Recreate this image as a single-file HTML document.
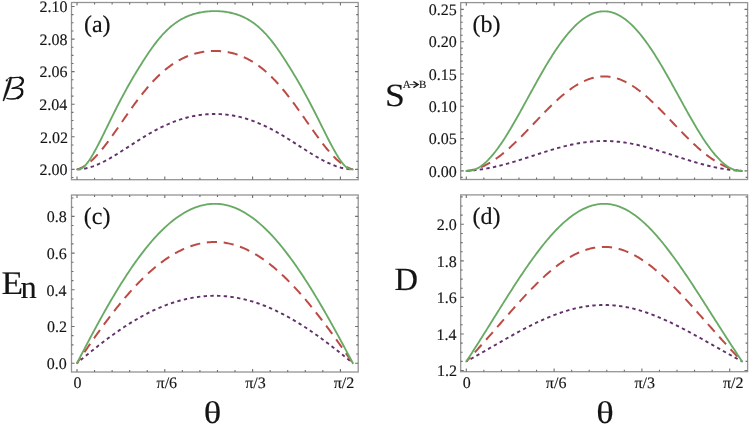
<!DOCTYPE html><html><head><meta charset="utf-8"><style>html,body{margin:0;padding:0;background:#fff;}svg{display:block;}</style></head><body>
<svg width="750" height="426" viewBox="0 0 750 426">
<clipPath id="clipa"><rect x="71.5" y="2.5" width="286.70" height="177.20"/></clipPath>
<g clip-path="url(#clipa)" fill="none" stroke-linecap="butt" stroke-linejoin="round">
<polyline stroke="#62306a" stroke-width="1.9" stroke-dasharray="3.4 3.3" stroke-dashoffset="6.21" points="77.00,169.40 78.15,169.36 79.30,169.30 80.45,169.20 81.60,169.08 82.75,168.92 83.90,168.74 85.05,168.52 86.19,168.28 87.34,168.01 88.49,167.72 89.64,167.40 90.79,167.05 91.94,166.68 93.09,166.29 94.24,165.87 95.39,165.44 96.54,164.98 97.69,164.50 98.84,164.00 99.99,163.48 101.14,162.94 102.28,162.39 103.43,161.82 104.58,161.23 105.73,160.63 106.88,160.01 108.03,159.38 109.18,158.74 110.33,158.09 111.48,157.42 112.63,156.74 113.78,156.06 114.93,155.36 116.08,154.66 117.23,153.95 118.37,153.23 119.52,152.51 120.67,151.78 121.82,151.05 122.97,150.31 124.12,149.57 125.27,148.83 126.42,148.08 127.57,147.34 128.72,146.59 129.87,145.84 131.02,145.09 132.17,144.35 133.32,143.61 134.46,142.86 135.61,142.13 136.76,141.39 137.91,140.66 139.06,139.93 140.21,139.21 141.36,138.49 142.51,137.78 143.66,137.07 144.81,136.37 145.96,135.68 147.11,135.00 148.26,134.32 149.41,133.65 150.56,132.99 151.70,132.34 152.85,131.69 154.00,131.06 155.15,130.43 156.30,129.82 157.45,129.21 158.60,128.62 159.75,128.03 160.90,127.46 162.05,126.90 163.20,126.34 164.35,125.80 165.50,125.27 166.65,124.76 167.79,124.25 168.94,123.76 170.09,123.27 171.24,122.80 172.39,122.34 173.54,121.90 174.69,121.46 175.84,121.04 176.99,120.63 178.14,120.23 179.29,119.84 180.44,119.47 181.59,119.11 182.74,118.76 183.88,118.43 185.03,118.10 186.18,117.79 187.33,117.49 188.48,117.20 189.63,116.93 190.78,116.67 191.93,116.42 193.08,116.18 194.23,115.96 195.38,115.74 196.53,115.54 197.68,115.36 198.83,115.18 199.98,115.02 201.12,114.87 202.27,114.73 203.42,114.60 204.57,114.49 205.72,114.38 206.87,114.29 208.02,114.21 209.17,114.15 210.32,114.09 211.47,114.05 212.62,114.02 213.77,114.00 214.92,114.00 216.04,114.00 217.16,114.02 218.29,114.05 219.41,114.09 220.53,114.15 221.66,114.21 222.78,114.29 223.90,114.38 225.03,114.49 226.15,114.60 227.27,114.73 228.40,114.87 229.52,115.02 230.65,115.18 231.77,115.36 232.90,115.54 234.02,115.74 235.15,115.96 236.28,116.18 237.40,116.42 238.53,116.67 239.66,116.93 240.78,117.20 241.91,117.49 243.04,117.79 244.17,118.10 245.30,118.43 246.43,118.76 247.56,119.11 248.69,119.47 249.82,119.84 250.95,120.23 252.08,120.63 253.21,121.04 254.35,121.46 255.48,121.90 256.62,122.34 257.75,122.80 258.89,123.27 260.02,123.76 261.16,124.25 262.30,124.76 263.43,125.27 264.57,125.80 265.71,126.34 266.85,126.90 267.99,127.46 269.13,128.03 270.27,128.62 271.41,129.21 272.56,129.82 273.70,130.43 274.85,131.06 275.99,131.69 277.14,132.34 278.28,132.99 279.43,133.65 280.58,134.32 281.72,135.00 282.87,135.68 284.02,136.37 285.17,137.07 286.32,137.78 287.48,138.49 288.63,139.21 289.78,139.93 290.94,140.66 292.09,141.39 293.25,142.13 294.40,142.86 295.56,143.61 296.71,144.35 297.87,145.09 299.03,145.84 300.19,146.59 301.35,147.34 302.51,148.08 303.67,148.83 304.83,149.57 305.99,150.31 307.16,151.05 308.32,151.78 309.48,152.51 310.65,153.23 311.81,153.95 312.98,154.66 314.14,155.36 315.31,156.06 316.48,156.74 317.65,157.42 318.81,158.09 319.98,158.74 321.15,159.38 322.32,160.01 323.49,160.63 324.66,161.23 325.83,161.82 327.00,162.39 328.17,162.94 329.35,163.48 330.52,164.00 331.69,164.50 332.86,164.98 334.04,165.44 335.21,165.87 336.38,166.29 337.56,166.68 338.73,167.05 339.91,167.40 341.08,167.72 342.25,168.01 343.43,168.28 344.60,168.52 345.78,168.74 346.95,168.92 348.13,169.08 349.31,169.20 350.48,169.30 351.66,169.36 352.83,169.40"/>
<polyline stroke="#bc4a45" stroke-width="2" stroke-dasharray="10.2 6.7" stroke-dashoffset="1.17" points="77.00,169.40 78.15,169.08 79.30,168.70 80.45,168.24 81.60,167.71 82.75,167.12 83.90,166.47 85.05,165.76 86.19,164.99 87.34,164.16 88.49,163.27 89.64,162.33 90.79,161.34 91.94,160.30 93.09,159.21 94.24,158.07 95.39,156.89 96.54,155.67 97.69,154.41 98.84,153.11 99.99,151.78 101.14,150.40 102.28,149.00 103.43,147.57 104.58,146.11 105.73,144.62 106.88,143.11 108.03,141.58 109.18,140.03 110.33,138.45 111.48,136.86 112.63,135.26 113.78,133.64 114.93,132.01 116.08,130.38 117.23,128.73 118.37,127.08 119.52,125.42 120.67,123.77 121.82,122.11 122.97,120.45 124.12,118.79 125.27,117.14 126.42,115.49 127.57,113.84 128.72,112.21 129.87,110.58 131.02,108.97 132.17,107.36 133.32,105.77 134.46,104.19 135.61,102.63 136.76,101.08 137.91,99.55 139.06,98.04 140.21,96.54 141.36,95.07 142.51,93.61 143.66,92.18 144.81,90.76 145.96,89.37 147.11,88.00 148.26,86.66 149.41,85.34 150.56,84.04 151.70,82.77 152.85,81.52 154.00,80.30 155.15,79.11 156.30,77.94 157.45,76.80 158.60,75.68 159.75,74.59 160.90,73.53 162.05,72.49 163.20,71.48 164.35,70.50 165.50,69.54 166.65,68.61 167.79,67.71 168.94,66.84 170.09,65.99 171.24,65.16 172.39,64.37 173.54,63.60 174.69,62.85 175.84,62.13 176.99,61.44 178.14,60.77 179.29,60.13 180.44,59.51 181.59,58.91 182.74,58.34 183.88,57.79 185.03,57.27 186.18,56.77 187.33,56.29 188.48,55.83 189.63,55.40 190.78,54.98 191.93,54.59 193.08,54.22 194.23,53.87 195.38,53.55 196.53,53.24 197.68,52.95 198.83,52.68 199.98,52.43 201.12,52.21 202.27,52.00 203.42,51.80 204.57,51.63 205.72,51.48 206.87,51.34 208.02,51.23 209.17,51.13 210.32,51.05 211.47,50.98 212.62,50.94 213.77,50.91 214.92,50.90 216.04,50.91 217.16,50.94 218.29,50.98 219.41,51.05 220.53,51.13 221.66,51.23 222.78,51.34 223.90,51.48 225.03,51.63 226.15,51.80 227.27,52.00 228.40,52.21 229.52,52.43 230.65,52.68 231.77,52.95 232.90,53.24 234.02,53.55 235.15,53.87 236.28,54.22 237.40,54.59 238.53,54.98 239.66,55.40 240.78,55.83 241.91,56.29 243.04,56.77 244.17,57.27 245.30,57.79 246.43,58.34 247.56,58.91 248.69,59.51 249.82,60.13 250.95,60.77 252.08,61.44 253.21,62.13 254.35,62.85 255.48,63.60 256.62,64.37 257.75,65.16 258.89,65.99 260.02,66.84 261.16,67.71 262.30,68.61 263.43,69.54 264.57,70.50 265.71,71.48 266.85,72.49 267.99,73.53 269.13,74.59 270.27,75.68 271.41,76.80 272.56,77.94 273.70,79.11 274.85,80.30 275.99,81.52 277.14,82.77 278.28,84.04 279.43,85.34 280.58,86.66 281.72,88.00 282.87,89.37 284.02,90.76 285.17,92.18 286.32,93.61 287.48,95.07 288.63,96.54 289.78,98.04 290.94,99.55 292.09,101.08 293.25,102.63 294.40,104.19 295.56,105.77 296.71,107.36 297.87,108.97 299.03,110.58 300.19,112.21 301.35,113.84 302.51,115.49 303.67,117.14 304.83,118.79 305.99,120.45 307.16,122.11 308.32,123.77 309.48,125.42 310.65,127.08 311.81,128.73 312.98,130.38 314.14,132.01 315.31,133.64 316.48,135.26 317.65,136.86 318.81,138.45 319.98,140.03 321.15,141.58 322.32,143.11 323.49,144.62 324.66,146.11 325.83,147.57 327.00,149.00 328.17,150.40 329.35,151.78 330.52,153.11 331.69,154.41 332.86,155.67 334.04,156.89 335.21,158.07 336.38,159.21 337.56,160.30 338.73,161.34 339.91,162.33 341.08,163.27 342.25,164.16 343.43,164.99 344.60,165.76 345.78,166.47 346.95,167.12 348.13,167.71 349.31,168.24 350.48,168.70 351.66,169.08 352.83,169.40"/>
<polyline stroke="#68aa64" stroke-width="1.85" stroke-linecap="round" points="77.00,169.40 78.15,169.38 79.30,169.34 80.45,168.97 81.60,168.39 82.75,167.62 83.90,166.68 85.05,165.56 86.19,164.30 87.34,162.89 88.49,161.35 89.64,159.68 90.79,157.92 91.94,156.05 93.09,154.10 94.24,152.07 95.39,149.99 96.54,147.86 97.69,145.69 98.84,143.47 99.99,141.23 101.14,138.96 102.28,136.66 103.43,134.35 104.58,132.02 105.73,129.68 106.88,127.33 108.03,124.97 109.18,122.62 110.33,120.27 111.48,117.93 112.63,115.60 113.78,113.29 114.93,110.99 116.08,108.71 117.23,106.45 118.37,104.21 119.52,101.99 120.67,99.80 121.82,97.62 122.97,95.46 124.12,93.33 125.27,91.22 126.42,89.13 127.57,87.06 128.72,85.02 129.87,83.00 131.02,81.00 132.17,79.03 133.32,77.08 134.46,75.15 135.61,73.24 136.76,71.34 137.91,69.46 139.06,67.60 140.21,65.74 141.36,63.90 142.51,62.08 143.66,60.27 144.81,58.48 145.96,56.71 147.11,54.97 148.26,53.25 149.41,51.57 150.56,49.91 151.70,48.28 152.85,46.69 154.00,45.13 155.15,43.60 156.30,42.12 157.45,40.66 158.60,39.25 159.75,37.88 160.90,36.54 162.05,35.25 163.20,33.99 164.35,32.78 165.50,31.60 166.65,30.47 167.79,29.37 168.94,28.32 170.09,27.30 171.24,26.32 172.39,25.38 173.54,24.48 174.69,23.62 175.84,22.79 176.99,22.00 178.14,21.24 179.29,20.52 180.44,19.83 181.59,19.17 182.74,18.55 183.88,17.96 185.03,17.40 186.18,16.86 187.33,16.36 188.48,15.89 189.63,15.44 190.78,15.02 191.93,14.62 193.08,14.25 194.23,13.91 195.38,13.58 196.53,13.29 197.68,13.01 198.83,12.75 199.98,12.52 201.12,12.30 202.27,12.10 203.42,11.92 204.57,11.77 205.72,11.62 206.87,11.50 208.02,11.39 209.17,11.30 210.32,11.23 211.47,11.17 212.62,11.13 213.77,11.11 214.92,11.10 216.04,11.11 217.16,11.13 218.29,11.17 219.41,11.23 220.53,11.30 221.66,11.39 222.78,11.50 223.90,11.62 225.03,11.77 226.15,11.92 227.27,12.10 228.40,12.30 229.52,12.52 230.65,12.75 231.77,13.01 232.90,13.29 234.02,13.58 235.15,13.91 236.28,14.25 237.40,14.62 238.53,15.02 239.66,15.44 240.78,15.89 241.91,16.36 243.04,16.86 244.17,17.40 245.30,17.96 246.43,18.55 247.56,19.17 248.69,19.83 249.82,20.52 250.95,21.24 252.08,22.00 253.21,22.79 254.35,23.62 255.48,24.48 256.62,25.38 257.75,26.32 258.89,27.30 260.02,28.32 261.16,29.37 262.30,30.47 263.43,31.60 264.57,32.78 265.71,33.99 266.85,35.25 267.99,36.54 269.13,37.88 270.27,39.25 271.41,40.66 272.56,42.12 273.70,43.60 274.85,45.13 275.99,46.69 277.14,48.28 278.28,49.91 279.43,51.57 280.58,53.25 281.72,54.97 282.87,56.71 284.02,58.48 285.17,60.27 286.32,62.08 287.48,63.90 288.63,65.74 289.78,67.60 290.94,69.46 292.09,71.34 293.25,73.24 294.40,75.15 295.56,77.08 296.71,79.03 297.87,81.00 299.03,83.00 300.19,85.02 301.35,87.06 302.51,89.13 303.67,91.22 304.83,93.33 305.99,95.46 307.16,97.62 308.32,99.80 309.48,101.99 310.65,104.21 311.81,106.45 312.98,108.71 314.14,110.99 315.31,113.29 316.48,115.60 317.65,117.93 318.81,120.27 319.98,122.62 321.15,124.97 322.32,127.33 323.49,129.68 324.66,132.02 325.83,134.35 327.00,136.66 328.17,138.96 329.35,141.23 330.52,143.47 331.69,145.69 332.86,147.86 334.04,149.99 335.21,152.07 336.38,154.10 337.56,156.05 338.73,157.92 339.91,159.68 341.08,161.35 342.25,162.89 343.43,164.30 344.60,165.56 345.78,166.68 346.95,167.62 348.13,168.39 349.31,168.97 350.48,169.34 351.66,169.38 352.83,169.40"/>
</g>
<rect x="71.5" y="2.5" width="286.70" height="177.20" fill="none" stroke="#949494" stroke-width="1.3"/>
<path d="M77.00 179.70v-3.1M77.00 2.50v3.1M94.56 179.70v-2.0M94.56 2.50v2.0M112.12 179.70v-2.0M112.12 2.50v2.0M129.68 179.70v-2.0M129.68 2.50v2.0M147.24 179.70v-2.0M147.24 2.50v2.0M164.80 179.70v-3.1M164.80 2.50v3.1M182.36 179.70v-2.0M182.36 2.50v2.0M199.92 179.70v-2.0M199.92 2.50v2.0M217.48 179.70v-2.0M217.48 2.50v2.0M235.04 179.70v-2.0M235.04 2.50v2.0M252.60 179.70v-3.1M252.60 2.50v3.1M270.16 179.70v-2.0M270.16 2.50v2.0M287.72 179.70v-2.0M287.72 2.50v2.0M305.28 179.70v-2.0M305.28 2.50v2.0M322.84 179.70v-2.0M322.84 2.50v2.0M340.40 179.70v-3.1M340.40 2.50v3.1M71.50 177.54h2.0M358.20 177.54h-2.0M71.50 169.40h3.1M358.20 169.40h-3.1M71.50 161.26h2.0M358.20 161.26h-2.0M71.50 153.11h2.0M358.20 153.11h-2.0M71.50 144.96h2.0M358.20 144.96h-2.0M71.50 136.82h3.1M358.20 136.82h-3.1M71.50 128.68h2.0M358.20 128.68h-2.0M71.50 120.53h2.0M358.20 120.53h-2.0M71.50 112.38h2.0M358.20 112.38h-2.0M71.50 104.24h3.1M358.20 104.24h-3.1M71.50 96.10h2.0M358.20 96.10h-2.0M71.50 87.95h2.0M358.20 87.95h-2.0M71.50 79.80h2.0M358.20 79.80h-2.0M71.50 71.66h3.1M358.20 71.66h-3.1M71.50 63.52h2.0M358.20 63.52h-2.0M71.50 55.37h2.0M358.20 55.37h-2.0M71.50 47.22h2.0M358.20 47.22h-2.0M71.50 39.08h3.1M358.20 39.08h-3.1M71.50 30.94h2.0M358.20 30.94h-2.0M71.50 22.79h2.0M358.20 22.79h-2.0M71.50 14.64h2.0M358.20 14.64h-2.0M71.50 6.50h3.1M358.20 6.50h-3.1" stroke="#6e6e6e" stroke-width="1.1" fill="none"/>
<clipPath id="clipb"><rect x="460.7" y="2.6" width="286.90" height="176.90"/></clipPath>
<g clip-path="url(#clipb)" fill="none" stroke-linecap="butt" stroke-linejoin="round">
<polyline stroke="#62306a" stroke-width="1.9" stroke-dasharray="3.4 3.3" stroke-dashoffset="6.63" points="466.30,170.90 467.45,170.83 468.60,170.76 469.75,170.68 470.90,170.59 472.05,170.49 473.20,170.38 474.35,170.27 475.49,170.14 476.64,170.01 477.79,169.87 478.94,169.72 480.09,169.56 481.24,169.39 482.39,169.22 483.54,169.04 484.69,168.85 485.84,168.65 486.99,168.44 488.14,168.23 489.29,168.01 490.44,167.78 491.58,167.55 492.73,167.31 493.88,167.06 495.03,166.80 496.18,166.54 497.33,166.27 498.48,166.00 499.63,165.72 500.78,165.43 501.93,165.14 503.08,164.84 504.23,164.53 505.38,164.23 506.53,163.91 507.67,163.59 508.82,163.27 509.97,162.94 511.12,162.61 512.27,162.27 513.42,161.93 514.57,161.58 515.72,161.24 516.87,160.88 518.02,160.53 519.17,160.17 520.32,159.81 521.47,159.45 522.62,159.09 523.76,158.72 524.91,158.35 526.06,157.98 527.21,157.61 528.36,157.24 529.51,156.86 530.66,156.49 531.81,156.12 532.96,155.74 534.11,155.37 535.26,154.99 536.41,154.62 537.56,154.25 538.71,153.88 539.86,153.51 541.00,153.14 542.15,152.77 543.30,152.40 544.45,152.04 545.60,151.68 546.75,151.32 547.90,150.97 549.05,150.62 550.20,150.27 551.35,149.92 552.50,149.58 553.65,149.24 554.80,148.91 555.95,148.58 557.09,148.26 558.24,147.94 559.39,147.62 560.54,147.32 561.69,147.01 562.84,146.71 563.99,146.42 565.14,146.14 566.29,145.86 567.44,145.58 568.59,145.31 569.74,145.05 570.89,144.80 572.04,144.55 573.18,144.31 574.33,144.08 575.48,143.86 576.63,143.64 577.78,143.43 578.93,143.23 580.08,143.04 581.23,142.85 582.38,142.67 583.53,142.51 584.68,142.35 585.83,142.19 586.98,142.05 588.13,141.92 589.28,141.79 590.42,141.68 591.57,141.57 592.72,141.47 593.87,141.38 595.02,141.30 596.17,141.23 597.32,141.17 598.47,141.12 599.62,141.08 600.77,141.04 601.92,141.02 603.07,141.00 604.22,141.00 605.34,141.00 606.46,141.02 607.59,141.04 608.71,141.08 609.83,141.12 610.96,141.17 612.08,141.23 613.20,141.30 614.33,141.38 615.45,141.47 616.57,141.57 617.70,141.68 618.82,141.79 619.95,141.92 621.07,142.05 622.20,142.19 623.32,142.35 624.45,142.51 625.58,142.67 626.70,142.85 627.83,143.04 628.96,143.23 630.08,143.43 631.21,143.64 632.34,143.86 633.47,144.08 634.60,144.31 635.73,144.55 636.86,144.80 637.99,145.05 639.12,145.31 640.25,145.58 641.38,145.86 642.51,146.14 643.65,146.42 644.78,146.71 645.92,147.01 647.05,147.32 648.19,147.62 649.32,147.94 650.46,148.26 651.60,148.58 652.73,148.91 653.87,149.24 655.01,149.58 656.15,149.92 657.29,150.27 658.43,150.62 659.57,150.97 660.71,151.32 661.86,151.68 663.00,152.04 664.15,152.40 665.29,152.77 666.44,153.14 667.58,153.51 668.73,153.88 669.88,154.25 671.02,154.62 672.17,154.99 673.32,155.37 674.47,155.74 675.62,156.12 676.78,156.49 677.93,156.86 679.08,157.24 680.24,157.61 681.39,157.98 682.55,158.35 683.70,158.72 684.86,159.09 686.01,159.45 687.17,159.81 688.33,160.17 689.49,160.53 690.65,160.88 691.81,161.24 692.97,161.58 694.13,161.93 695.29,162.27 696.46,162.61 697.62,162.94 698.78,163.27 699.95,163.59 701.11,163.91 702.28,164.23 703.44,164.53 704.61,164.84 705.78,165.14 706.95,165.43 708.11,165.72 709.28,166.00 710.45,166.27 711.62,166.54 712.79,166.80 713.96,167.06 715.13,167.31 716.30,167.55 717.47,167.78 718.65,168.01 719.82,168.23 720.99,168.44 722.16,168.65 723.34,168.85 724.51,169.04 725.68,169.22 726.86,169.39 728.03,169.56 729.21,169.72 730.38,169.87 731.55,170.01 732.73,170.14 733.90,170.27 735.08,170.38 736.25,170.49 737.43,170.59 738.61,170.68 739.78,170.76 740.96,170.83 742.13,170.90"/>
<polyline stroke="#bc4a45" stroke-width="2" stroke-dasharray="10.2 6.7" stroke-dashoffset="1.68" points="466.30,170.90 467.45,170.78 468.60,170.64 469.75,170.46 470.90,170.25 472.05,170.02 473.20,169.75 474.35,169.46 475.49,169.13 476.64,168.78 477.79,168.40 478.94,167.99 480.09,167.55 481.24,167.08 482.39,166.59 483.54,166.07 484.69,165.52 485.84,164.95 486.99,164.34 488.14,163.72 489.29,163.06 490.44,162.38 491.58,161.68 492.73,160.95 493.88,160.20 495.03,159.42 496.18,158.62 497.33,157.80 498.48,156.96 499.63,156.09 500.78,155.20 501.93,154.30 503.08,153.37 504.23,152.42 505.38,151.46 506.53,150.48 507.67,149.48 508.82,148.46 509.97,147.42 511.12,146.37 512.27,145.31 513.42,144.23 514.57,143.14 515.72,142.04 516.87,140.92 518.02,139.79 519.17,138.65 520.32,137.50 521.47,136.35 522.62,135.18 523.76,134.01 524.91,132.83 526.06,131.64 527.21,130.45 528.36,129.25 529.51,128.05 530.66,126.85 531.81,125.64 532.96,124.44 534.11,123.23 535.26,122.02 536.41,120.82 537.56,119.61 538.71,118.41 539.86,117.21 541.00,116.02 542.15,114.83 543.30,113.64 544.45,112.47 545.60,111.29 546.75,110.13 547.90,108.98 549.05,107.83 550.20,106.70 551.35,105.58 552.50,104.47 553.65,103.37 554.80,102.28 555.95,101.21 557.09,100.15 558.24,99.11 559.39,98.09 560.54,97.08 561.69,96.09 562.84,95.11 563.99,94.16 565.14,93.22 566.29,92.31 567.44,91.41 568.59,90.54 569.74,89.69 570.89,88.86 572.04,88.05 573.18,87.27 574.33,86.50 575.48,85.77 576.63,85.06 577.78,84.37 578.93,83.71 580.08,83.08 581.23,82.47 582.38,81.89 583.53,81.34 584.68,80.81 585.83,80.32 586.98,79.85 588.13,79.41 589.28,79.00 590.42,78.62 591.57,78.27 592.72,77.94 593.87,77.65 595.02,77.39 596.17,77.16 597.32,76.96 598.47,76.79 599.62,76.65 600.77,76.54 601.92,76.46 603.07,76.42 604.22,76.40 605.34,76.42 606.46,76.46 607.59,76.54 608.71,76.65 609.83,76.79 610.96,76.96 612.08,77.16 613.20,77.39 614.33,77.65 615.45,77.94 616.57,78.27 617.70,78.62 618.82,79.00 619.95,79.41 621.07,79.85 622.20,80.32 623.32,80.81 624.45,81.34 625.58,81.89 626.70,82.47 627.83,83.08 628.96,83.71 630.08,84.37 631.21,85.06 632.34,85.77 633.47,86.50 634.60,87.27 635.73,88.05 636.86,88.86 637.99,89.69 639.12,90.54 640.25,91.41 641.38,92.31 642.51,93.22 643.65,94.16 644.78,95.11 645.92,96.09 647.05,97.08 648.19,98.09 649.32,99.11 650.46,100.15 651.60,101.21 652.73,102.28 653.87,103.37 655.01,104.47 656.15,105.58 657.29,106.70 658.43,107.83 659.57,108.98 660.71,110.13 661.86,111.29 663.00,112.47 664.15,113.64 665.29,114.83 666.44,116.02 667.58,117.21 668.73,118.41 669.88,119.61 671.02,120.82 672.17,122.02 673.32,123.23 674.47,124.44 675.62,125.64 676.78,126.85 677.93,128.05 679.08,129.25 680.24,130.45 681.39,131.64 682.55,132.83 683.70,134.01 684.86,135.18 686.01,136.35 687.17,137.50 688.33,138.65 689.49,139.79 690.65,140.92 691.81,142.04 692.97,143.14 694.13,144.23 695.29,145.31 696.46,146.37 697.62,147.42 698.78,148.46 699.95,149.48 701.11,150.48 702.28,151.46 703.44,152.42 704.61,153.37 705.78,154.30 706.95,155.20 708.11,156.09 709.28,156.96 710.45,157.80 711.62,158.62 712.79,159.42 713.96,160.20 715.13,160.95 716.30,161.68 717.47,162.38 718.65,163.06 719.82,163.72 720.99,164.34 722.16,164.95 723.34,165.52 724.51,166.07 725.68,166.59 726.86,167.08 728.03,167.55 729.21,167.99 730.38,168.40 731.55,168.78 732.73,169.13 733.90,169.46 735.08,169.75 736.25,170.02 737.43,170.25 738.61,170.46 739.78,170.64 740.96,170.78 742.13,170.90"/>
<polyline stroke="#68aa64" stroke-width="1.85" stroke-linecap="round" points="466.30,170.90 467.45,170.90 468.60,170.90 469.75,170.81 470.90,170.65 472.05,170.40 473.20,170.08 474.35,169.68 475.49,169.23 476.64,168.70 477.79,168.11 478.94,167.44 480.09,166.72 481.24,165.93 482.39,165.08 483.54,164.16 484.69,163.19 485.84,162.16 486.99,161.07 488.14,159.93 489.29,158.73 490.44,157.48 491.58,156.18 492.73,154.83 493.88,153.43 495.03,151.98 496.18,150.49 497.33,148.96 498.48,147.38 499.63,145.76 500.78,144.11 501.93,142.42 503.08,140.69 504.23,138.93 505.38,137.13 506.53,135.31 507.67,133.45 508.82,131.57 509.97,129.66 511.12,127.73 512.27,125.78 513.42,123.81 514.57,121.81 515.72,119.80 516.87,117.77 518.02,115.73 519.17,113.68 520.32,111.61 521.47,109.54 522.62,107.45 523.76,105.36 524.91,103.27 526.06,101.17 527.21,99.07 528.36,96.97 529.51,94.87 530.66,92.77 531.81,90.68 532.96,88.59 534.11,86.50 535.26,84.43 536.41,82.36 537.56,80.31 538.71,78.27 539.86,76.23 541.00,74.22 542.15,72.22 543.30,70.23 544.45,68.27 545.60,66.32 546.75,64.39 547.90,62.49 549.05,60.60 550.20,58.74 551.35,56.91 552.50,55.10 553.65,53.31 554.80,51.55 555.95,49.83 557.09,48.13 558.24,46.45 559.39,44.82 560.54,43.21 561.69,41.63 562.84,40.09 563.99,38.58 565.14,37.11 566.29,35.67 567.44,34.27 568.59,32.90 569.74,31.57 570.89,30.28 572.04,29.03 573.18,27.82 574.33,26.65 575.48,25.51 576.63,24.42 577.78,23.37 578.93,22.36 580.08,21.39 581.23,20.47 582.38,19.58 583.53,18.74 584.68,17.95 585.83,17.19 586.98,16.49 588.13,15.82 589.28,15.20 590.42,14.63 591.57,14.10 592.72,13.61 593.87,13.18 595.02,12.78 596.17,12.44 597.32,12.13 598.47,11.88 599.62,11.67 600.77,11.51 601.92,11.39 603.07,11.32 604.22,11.30 605.34,11.32 606.46,11.39 607.59,11.51 608.71,11.67 609.83,11.88 610.96,12.13 612.08,12.44 613.20,12.78 614.33,13.18 615.45,13.61 616.57,14.10 617.70,14.63 618.82,15.20 619.95,15.82 621.07,16.49 622.20,17.19 623.32,17.95 624.45,18.74 625.58,19.58 626.70,20.47 627.83,21.39 628.96,22.36 630.08,23.37 631.21,24.42 632.34,25.51 633.47,26.65 634.60,27.82 635.73,29.03 636.86,30.28 637.99,31.57 639.12,32.90 640.25,34.27 641.38,35.67 642.51,37.11 643.65,38.58 644.78,40.09 645.92,41.63 647.05,43.21 648.19,44.82 649.32,46.45 650.46,48.13 651.60,49.83 652.73,51.55 653.87,53.31 655.01,55.10 656.15,56.91 657.29,58.74 658.43,60.60 659.57,62.49 660.71,64.39 661.86,66.32 663.00,68.27 664.15,70.23 665.29,72.22 666.44,74.22 667.58,76.23 668.73,78.27 669.88,80.31 671.02,82.36 672.17,84.43 673.32,86.50 674.47,88.59 675.62,90.68 676.78,92.77 677.93,94.87 679.08,96.97 680.24,99.07 681.39,101.17 682.55,103.27 683.70,105.36 684.86,107.45 686.01,109.54 687.17,111.61 688.33,113.68 689.49,115.73 690.65,117.77 691.81,119.80 692.97,121.81 694.13,123.81 695.29,125.78 696.46,127.73 697.62,129.66 698.78,131.57 699.95,133.45 701.11,135.31 702.28,137.13 703.44,138.93 704.61,140.69 705.78,142.42 706.95,144.11 708.11,145.76 709.28,147.38 710.45,148.96 711.62,150.49 712.79,151.98 713.96,153.43 715.13,154.83 716.30,156.18 717.47,157.48 718.65,158.73 719.82,159.93 720.99,161.07 722.16,162.16 723.34,163.19 724.51,164.16 725.68,165.08 726.86,165.93 728.03,166.72 729.21,167.44 730.38,168.11 731.55,168.70 732.73,169.23 733.90,169.68 735.08,170.08 736.25,170.40 737.43,170.65 738.61,170.81 739.78,170.90 740.96,170.90 742.13,170.90"/>
</g>
<rect x="460.7" y="2.6" width="286.90" height="176.90" fill="none" stroke="#949494" stroke-width="1.3"/>
<path d="M466.30 179.50v-3.1M466.30 2.60v3.1M483.86 179.50v-2.0M483.86 2.60v2.0M501.42 179.50v-2.0M501.42 2.60v2.0M518.98 179.50v-2.0M518.98 2.60v2.0M536.54 179.50v-2.0M536.54 2.60v2.0M554.10 179.50v-3.1M554.10 2.60v3.1M571.66 179.50v-2.0M571.66 2.60v2.0M589.22 179.50v-2.0M589.22 2.60v2.0M606.78 179.50v-2.0M606.78 2.60v2.0M624.34 179.50v-2.0M624.34 2.60v2.0M641.90 179.50v-3.1M641.90 2.60v3.1M659.46 179.50v-2.0M659.46 2.60v2.0M677.02 179.50v-2.0M677.02 2.60v2.0M694.58 179.50v-2.0M694.58 2.60v2.0M712.14 179.50v-2.0M712.14 2.60v2.0M729.70 179.50v-3.1M729.70 2.60v3.1M460.70 177.36h2.0M747.60 177.36h-2.0M460.70 170.90h3.1M747.60 170.90h-3.1M460.70 164.44h2.0M747.60 164.44h-2.0M460.70 157.98h2.0M747.60 157.98h-2.0M460.70 151.52h2.0M747.60 151.52h-2.0M460.70 145.06h2.0M747.60 145.06h-2.0M460.70 138.60h3.1M747.60 138.60h-3.1M460.70 132.14h2.0M747.60 132.14h-2.0M460.70 125.68h2.0M747.60 125.68h-2.0M460.70 119.22h2.0M747.60 119.22h-2.0M460.70 112.76h2.0M747.60 112.76h-2.0M460.70 106.30h3.1M747.60 106.30h-3.1M460.70 99.84h2.0M747.60 99.84h-2.0M460.70 93.38h2.0M747.60 93.38h-2.0M460.70 86.92h2.0M747.60 86.92h-2.0M460.70 80.46h2.0M747.60 80.46h-2.0M460.70 74.00h3.1M747.60 74.00h-3.1M460.70 67.54h2.0M747.60 67.54h-2.0M460.70 61.08h2.0M747.60 61.08h-2.0M460.70 54.62h2.0M747.60 54.62h-2.0M460.70 48.16h2.0M747.60 48.16h-2.0M460.70 41.70h3.1M747.60 41.70h-3.1M460.70 35.24h2.0M747.60 35.24h-2.0M460.70 28.78h2.0M747.60 28.78h-2.0M460.70 22.32h2.0M747.60 22.32h-2.0M460.70 15.86h2.0M747.60 15.86h-2.0M460.70 9.40h3.1M747.60 9.40h-3.1" stroke="#6e6e6e" stroke-width="1.1" fill="none"/>
<clipPath id="clipc"><rect x="71.5" y="195.0" width="286.70" height="177.00"/></clipPath>
<g clip-path="url(#clipc)" fill="none" stroke-linecap="butt" stroke-linejoin="round">
<polyline stroke="#62306a" stroke-width="1.9" stroke-dasharray="3.4 3.3" stroke-dashoffset="1.85" points="77.00,363.20 78.15,362.23 79.30,361.26 80.45,360.30 81.60,359.34 82.75,358.38 83.90,357.42 85.05,356.47 86.19,355.52 87.34,354.58 88.49,353.64 89.64,352.70 90.79,351.77 91.94,350.84 93.09,349.91 94.24,348.99 95.39,348.08 96.54,347.17 97.69,346.26 98.84,345.36 99.99,344.46 101.14,343.57 102.28,342.69 103.43,341.81 104.58,340.93 105.73,340.06 106.88,339.20 108.03,338.35 109.18,337.50 110.33,336.65 111.48,335.81 112.63,334.98 113.78,334.16 114.93,333.34 116.08,332.53 117.23,331.73 118.37,330.93 119.52,330.14 120.67,329.36 121.82,328.58 122.97,327.81 124.12,327.05 125.27,326.30 126.42,325.56 127.57,324.82 128.72,324.09 129.87,323.37 131.02,322.66 132.17,321.95 133.32,321.25 134.46,320.56 135.61,319.88 136.76,319.21 137.91,318.55 139.06,317.89 140.21,317.25 141.36,316.61 142.51,315.98 143.66,315.36 144.81,314.75 145.96,314.15 147.11,313.55 148.26,312.97 149.41,312.39 150.56,311.83 151.70,311.27 152.85,310.72 154.00,310.18 155.15,309.65 156.30,309.13 157.45,308.62 158.60,308.12 159.75,307.63 160.90,307.15 162.05,306.68 163.20,306.21 164.35,305.76 165.50,305.32 166.65,304.89 167.79,304.46 168.94,304.05 170.09,303.64 171.24,303.25 172.39,302.87 173.54,302.49 174.69,302.13 175.84,301.77 176.99,301.43 178.14,301.09 179.29,300.77 180.44,300.46 181.59,300.15 182.74,299.86 183.88,299.58 185.03,299.30 186.18,299.04 187.33,298.79 188.48,298.54 189.63,298.31 190.78,298.09 191.93,297.87 193.08,297.67 194.23,297.48 195.38,297.30 196.53,297.13 197.68,296.97 198.83,296.82 199.98,296.68 201.12,296.55 202.27,296.43 203.42,296.32 204.57,296.22 205.72,296.13 206.87,296.05 208.02,295.99 209.17,295.93 210.32,295.88 211.47,295.85 212.62,295.82 213.77,295.81 214.92,295.80 216.04,295.81 217.16,295.82 218.29,295.85 219.41,295.88 220.53,295.93 221.66,295.99 222.78,296.05 223.90,296.13 225.03,296.22 226.15,296.32 227.27,296.43 228.40,296.55 229.52,296.68 230.65,296.82 231.77,296.97 232.90,297.13 234.02,297.30 235.15,297.48 236.28,297.67 237.40,297.87 238.53,298.09 239.66,298.31 240.78,298.54 241.91,298.79 243.04,299.04 244.17,299.30 245.30,299.58 246.43,299.86 247.56,300.15 248.69,300.46 249.82,300.77 250.95,301.09 252.08,301.43 253.21,301.77 254.35,302.13 255.48,302.49 256.62,302.87 257.75,303.25 258.89,303.64 260.02,304.05 261.16,304.46 262.30,304.89 263.43,305.32 264.57,305.76 265.71,306.21 266.85,306.68 267.99,307.15 269.13,307.63 270.27,308.12 271.41,308.62 272.56,309.13 273.70,309.65 274.85,310.18 275.99,310.72 277.14,311.27 278.28,311.83 279.43,312.39 280.58,312.97 281.72,313.55 282.87,314.15 284.02,314.75 285.17,315.36 286.32,315.98 287.48,316.61 288.63,317.25 289.78,317.89 290.94,318.55 292.09,319.21 293.25,319.88 294.40,320.56 295.56,321.25 296.71,321.95 297.87,322.66 299.03,323.37 300.19,324.09 301.35,324.82 302.51,325.56 303.67,326.30 304.83,327.05 305.99,327.81 307.16,328.58 308.32,329.36 309.48,330.14 310.65,330.93 311.81,331.73 312.98,332.53 314.14,333.34 315.31,334.16 316.48,334.98 317.65,335.81 318.81,336.65 319.98,337.50 321.15,338.35 322.32,339.20 323.49,340.06 324.66,340.93 325.83,341.81 327.00,342.69 328.17,343.57 329.35,344.46 330.52,345.36 331.69,346.26 332.86,347.17 334.04,348.08 335.21,348.99 336.38,349.91 337.56,350.84 338.73,351.77 339.91,352.70 341.08,353.64 342.25,354.58 343.43,355.52 344.60,356.47 345.78,357.42 346.95,358.38 348.13,359.34 349.31,360.30 350.48,361.26 351.66,362.23 352.83,363.20"/>
<polyline stroke="#bc4a45" stroke-width="2" stroke-dasharray="10.2 6.7" stroke-dashoffset="3.67" points="77.00,363.20 78.15,361.49 79.30,359.78 80.45,358.08 81.60,356.38 82.75,354.68 83.90,352.99 85.05,351.30 86.19,349.62 87.34,347.95 88.49,346.28 89.64,344.62 90.79,342.96 91.94,341.31 93.09,339.67 94.24,338.03 95.39,336.40 96.54,334.78 97.69,333.17 98.84,331.57 99.99,329.97 101.14,328.38 102.28,326.81 103.43,325.24 104.58,323.68 105.73,322.13 106.88,320.59 108.03,319.06 109.18,317.54 110.33,316.03 111.48,314.53 112.63,313.04 113.78,311.56 114.93,310.10 116.08,308.64 117.23,307.20 118.37,305.77 119.52,304.35 120.67,302.95 121.82,301.56 122.97,300.18 124.12,298.81 125.27,297.45 126.42,296.11 127.57,294.79 128.72,293.47 129.87,292.17 131.02,290.88 132.17,289.61 133.32,288.35 134.46,287.11 135.61,285.88 136.76,284.66 137.91,283.46 139.06,282.28 140.21,281.11 141.36,279.95 142.51,278.82 143.66,277.69 144.81,276.58 145.96,275.49 147.11,274.41 148.26,273.35 149.41,272.31 150.56,271.28 151.70,270.27 152.85,269.27 154.00,268.29 155.15,267.33 156.30,266.38 157.45,265.46 158.60,264.54 159.75,263.65 160.90,262.77 162.05,261.91 163.20,261.07 164.35,260.24 165.50,259.43 166.65,258.64 167.79,257.87 168.94,257.11 170.09,256.37 171.24,255.65 172.39,254.95 173.54,254.27 174.69,253.60 175.84,252.95 176.99,252.32 178.14,251.71 179.29,251.12 180.44,250.54 181.59,249.99 182.74,249.45 183.88,248.93 185.03,248.43 186.18,247.94 187.33,247.48 188.48,247.04 189.63,246.61 190.78,246.20 191.93,245.81 193.08,245.44 194.23,245.09 195.38,244.76 196.53,244.44 197.68,244.15 198.83,243.87 199.98,243.61 201.12,243.37 202.27,243.15 203.42,242.95 204.57,242.77 205.72,242.61 206.87,242.47 208.02,242.34 209.17,242.24 210.32,242.15 211.47,242.09 212.62,242.04 213.77,242.01 214.92,242.00 216.04,242.01 217.16,242.04 218.29,242.09 219.41,242.15 220.53,242.24 221.66,242.34 222.78,242.47 223.90,242.61 225.03,242.77 226.15,242.95 227.27,243.15 228.40,243.37 229.52,243.61 230.65,243.87 231.77,244.15 232.90,244.44 234.02,244.76 235.15,245.09 236.28,245.44 237.40,245.81 238.53,246.20 239.66,246.61 240.78,247.04 241.91,247.48 243.04,247.94 244.17,248.43 245.30,248.93 246.43,249.45 247.56,249.99 248.69,250.54 249.82,251.12 250.95,251.71 252.08,252.32 253.21,252.95 254.35,253.60 255.48,254.27 256.62,254.95 257.75,255.65 258.89,256.37 260.02,257.11 261.16,257.87 262.30,258.64 263.43,259.43 264.57,260.24 265.71,261.07 266.85,261.91 267.99,262.77 269.13,263.65 270.27,264.54 271.41,265.46 272.56,266.38 273.70,267.33 274.85,268.29 275.99,269.27 277.14,270.27 278.28,271.28 279.43,272.31 280.58,273.35 281.72,274.41 282.87,275.49 284.02,276.58 285.17,277.69 286.32,278.82 287.48,279.95 288.63,281.11 289.78,282.28 290.94,283.46 292.09,284.66 293.25,285.88 294.40,287.11 295.56,288.35 296.71,289.61 297.87,290.88 299.03,292.17 300.19,293.47 301.35,294.79 302.51,296.11 303.67,297.45 304.83,298.81 305.99,300.18 307.16,301.56 308.32,302.95 309.48,304.35 310.65,305.77 311.81,307.20 312.98,308.64 314.14,310.10 315.31,311.56 316.48,313.04 317.65,314.53 318.81,316.03 319.98,317.54 321.15,319.06 322.32,320.59 323.49,322.13 324.66,323.68 325.83,325.24 327.00,326.81 328.17,328.38 329.35,329.97 330.52,331.57 331.69,333.17 332.86,334.78 334.04,336.40 335.21,338.03 336.38,339.67 337.56,341.31 338.73,342.96 339.91,344.62 341.08,346.28 342.25,347.95 343.43,349.62 344.60,351.30 345.78,352.99 346.95,354.68 348.13,356.38 349.31,358.08 350.48,359.78 351.66,361.49 352.83,363.20"/>
<polyline stroke="#68aa64" stroke-width="1.85" stroke-linecap="round" points="77.00,363.20 78.15,360.97 79.30,358.74 80.45,356.52 81.60,354.30 82.75,352.09 83.90,349.89 85.05,347.69 86.19,345.49 87.34,343.31 88.49,341.13 89.64,338.96 90.79,336.79 91.94,334.64 93.09,332.49 94.24,330.35 95.39,328.22 96.54,326.10 97.69,323.99 98.84,321.89 99.99,319.80 101.14,317.73 102.28,315.66 103.43,313.60 104.58,311.56 105.73,309.53 106.88,307.51 108.03,305.50 109.18,303.51 110.33,301.53 111.48,299.56 112.63,297.61 113.78,295.67 114.93,293.75 116.08,291.84 117.23,289.95 118.37,288.07 119.52,286.20 120.67,284.36 121.82,282.53 122.97,280.71 124.12,278.91 125.27,277.13 126.42,275.36 127.57,273.62 128.72,271.89 129.87,270.17 131.02,268.48 132.17,266.80 133.32,265.15 134.46,263.51 135.61,261.89 136.76,260.28 137.91,258.70 139.06,257.14 140.21,255.59 141.36,254.07 142.51,252.57 143.66,251.08 144.81,249.62 145.96,248.18 147.11,246.75 148.26,245.35 149.41,243.97 150.56,242.61 151.70,241.27 152.85,239.96 154.00,238.66 155.15,237.39 156.30,236.14 157.45,234.91 158.60,233.70 159.75,232.52 160.90,231.36 162.05,230.22 163.20,229.10 164.35,228.01 165.50,226.94 166.65,225.89 167.79,224.86 168.94,223.86 170.09,222.88 171.24,221.93 172.39,221.00 173.54,220.09 174.69,219.21 175.84,218.35 176.99,217.51 178.14,216.70 179.29,215.91 180.44,215.15 181.59,214.41 182.74,213.70 183.88,213.01 185.03,212.34 186.18,211.70 187.33,211.08 188.48,210.49 189.63,209.92 190.78,209.38 191.93,208.86 193.08,208.37 194.23,207.90 195.38,207.46 196.53,207.04 197.68,206.65 198.83,206.29 199.98,205.94 201.12,205.63 202.27,205.34 203.42,205.07 204.57,204.83 205.72,204.61 206.87,204.42 208.02,204.26 209.17,204.12 210.32,204.00 211.47,203.91 212.62,203.85 213.77,203.81 214.92,203.80 216.04,203.81 217.16,203.85 218.29,203.91 219.41,204.00 220.53,204.12 221.66,204.26 222.78,204.42 223.90,204.61 225.03,204.83 226.15,205.07 227.27,205.34 228.40,205.63 229.52,205.94 230.65,206.29 231.77,206.65 232.90,207.04 234.02,207.46 235.15,207.90 236.28,208.37 237.40,208.86 238.53,209.38 239.66,209.92 240.78,210.49 241.91,211.08 243.04,211.70 244.17,212.34 245.30,213.01 246.43,213.70 247.56,214.41 248.69,215.15 249.82,215.91 250.95,216.70 252.08,217.51 253.21,218.35 254.35,219.21 255.48,220.09 256.62,221.00 257.75,221.93 258.89,222.88 260.02,223.86 261.16,224.86 262.30,225.89 263.43,226.94 264.57,228.01 265.71,229.10 266.85,230.22 267.99,231.36 269.13,232.52 270.27,233.70 271.41,234.91 272.56,236.14 273.70,237.39 274.85,238.66 275.99,239.96 277.14,241.27 278.28,242.61 279.43,243.97 280.58,245.35 281.72,246.75 282.87,248.18 284.02,249.62 285.17,251.08 286.32,252.57 287.48,254.07 288.63,255.59 289.78,257.14 290.94,258.70 292.09,260.28 293.25,261.89 294.40,263.51 295.56,265.15 296.71,266.80 297.87,268.48 299.03,270.17 300.19,271.89 301.35,273.62 302.51,275.36 303.67,277.13 304.83,278.91 305.99,280.71 307.16,282.53 308.32,284.36 309.48,286.20 310.65,288.07 311.81,289.95 312.98,291.84 314.14,293.75 315.31,295.67 316.48,297.61 317.65,299.56 318.81,301.53 319.98,303.51 321.15,305.50 322.32,307.51 323.49,309.53 324.66,311.56 325.83,313.60 327.00,315.66 328.17,317.73 329.35,319.80 330.52,321.89 331.69,323.99 332.86,326.10 334.04,328.22 335.21,330.35 336.38,332.49 337.56,334.64 338.73,336.79 339.91,338.96 341.08,341.13 342.25,343.31 343.43,345.49 344.60,347.69 345.78,349.89 346.95,352.09 348.13,354.30 349.31,356.52 350.48,358.74 351.66,360.97 352.83,363.20"/>
</g>
<rect x="71.5" y="195.0" width="286.70" height="177.00" fill="none" stroke="#949494" stroke-width="1.3"/>
<path d="M77.00 372.00v-3.1M77.00 195.00v3.1M94.56 372.00v-2.0M94.56 195.00v2.0M112.12 372.00v-2.0M112.12 195.00v2.0M129.68 372.00v-2.0M129.68 195.00v2.0M147.24 372.00v-2.0M147.24 195.00v2.0M164.80 372.00v-3.1M164.80 195.00v3.1M182.36 372.00v-2.0M182.36 195.00v2.0M199.92 372.00v-2.0M199.92 195.00v2.0M217.48 372.00v-2.0M217.48 195.00v2.0M235.04 372.00v-2.0M235.04 195.00v2.0M252.60 372.00v-3.1M252.60 195.00v3.1M270.16 372.00v-2.0M270.16 195.00v2.0M287.72 372.00v-2.0M287.72 195.00v2.0M305.28 372.00v-2.0M305.28 195.00v2.0M322.84 372.00v-2.0M322.84 195.00v2.0M340.40 372.00v-3.1M340.40 195.00v3.1M71.50 363.20h3.1M358.20 363.20h-3.1M71.50 354.02h2.0M358.20 354.02h-2.0M71.50 344.85h2.0M358.20 344.85h-2.0M71.50 335.67h2.0M358.20 335.67h-2.0M71.50 326.50h3.1M358.20 326.50h-3.1M71.50 317.32h2.0M358.20 317.32h-2.0M71.50 308.15h2.0M358.20 308.15h-2.0M71.50 298.97h2.0M358.20 298.97h-2.0M71.50 289.80h3.1M358.20 289.80h-3.1M71.50 280.62h2.0M358.20 280.62h-2.0M71.50 271.45h2.0M358.20 271.45h-2.0M71.50 262.27h2.0M358.20 262.27h-2.0M71.50 253.10h3.1M358.20 253.10h-3.1M71.50 243.92h2.0M358.20 243.92h-2.0M71.50 234.75h2.0M358.20 234.75h-2.0M71.50 225.57h2.0M358.20 225.57h-2.0M71.50 216.40h3.1M358.20 216.40h-3.1M71.50 207.22h2.0M358.20 207.22h-2.0M71.50 198.05h2.0M358.20 198.05h-2.0" stroke="#6e6e6e" stroke-width="1.1" fill="none"/>
<clipPath id="clipd"><rect x="460.7" y="194.9" width="286.90" height="176.80"/></clipPath>
<g clip-path="url(#clipd)" fill="none" stroke-linecap="butt" stroke-linejoin="round">
<polyline stroke="#62306a" stroke-width="1.9" stroke-dasharray="3.4 3.3" stroke-dashoffset="1.84" points="466.30,361.40 467.45,360.77 468.60,360.14 469.75,359.50 470.90,358.87 472.05,358.23 473.20,357.59 474.35,356.94 475.49,356.30 476.64,355.65 477.79,355.00 478.94,354.35 480.09,353.69 481.24,353.04 482.39,352.38 483.54,351.73 484.69,351.07 485.84,350.41 486.99,349.75 488.14,349.09 489.29,348.43 490.44,347.76 491.58,347.10 492.73,346.44 493.88,345.78 495.03,345.12 496.18,344.45 497.33,343.79 498.48,343.13 499.63,342.47 500.78,341.82 501.93,341.16 503.08,340.50 504.23,339.85 505.38,339.19 506.53,338.54 507.67,337.89 508.82,337.24 509.97,336.60 511.12,335.96 512.27,335.31 513.42,334.68 514.57,334.04 515.72,333.41 516.87,332.78 518.02,332.15 519.17,331.53 520.32,330.91 521.47,330.30 522.62,329.69 523.76,329.08 524.91,328.48 526.06,327.88 527.21,327.29 528.36,326.70 529.51,326.11 530.66,325.53 531.81,324.96 532.96,324.39 534.11,323.83 535.26,323.27 536.41,322.72 537.56,322.17 538.71,321.63 539.86,321.10 541.00,320.57 542.15,320.05 543.30,319.54 544.45,319.03 545.60,318.53 546.75,318.04 547.90,317.56 549.05,317.08 550.20,316.61 551.35,316.15 552.50,315.69 553.65,315.24 554.80,314.80 555.95,314.37 557.09,313.95 558.24,313.54 559.39,313.13 560.54,312.74 561.69,312.35 562.84,311.97 563.99,311.60 565.14,311.24 566.29,310.89 567.44,310.54 568.59,310.21 569.74,309.89 570.89,309.57 572.04,309.27 573.18,308.98 574.33,308.69 575.48,308.42 576.63,308.15 577.78,307.90 578.93,307.66 580.08,307.42 581.23,307.20 582.38,306.99 583.53,306.79 584.68,306.59 585.83,306.41 586.98,306.24 588.13,306.08 589.28,305.94 590.42,305.80 591.57,305.67 592.72,305.55 593.87,305.45 595.02,305.36 596.17,305.27 597.32,305.20 598.47,305.14 599.62,305.09 600.77,305.05 601.92,305.02 603.07,305.01 604.22,305.00 605.34,305.01 606.46,305.02 607.59,305.05 608.71,305.09 609.83,305.14 610.96,305.20 612.08,305.27 613.20,305.36 614.33,305.45 615.45,305.55 616.57,305.67 617.70,305.80 618.82,305.94 619.95,306.08 621.07,306.24 622.20,306.41 623.32,306.59 624.45,306.79 625.58,306.99 626.70,307.20 627.83,307.42 628.96,307.66 630.08,307.90 631.21,308.15 632.34,308.42 633.47,308.69 634.60,308.98 635.73,309.27 636.86,309.57 637.99,309.89 639.12,310.21 640.25,310.54 641.38,310.89 642.51,311.24 643.65,311.60 644.78,311.97 645.92,312.35 647.05,312.74 648.19,313.13 649.32,313.54 650.46,313.95 651.60,314.37 652.73,314.80 653.87,315.24 655.01,315.69 656.15,316.15 657.29,316.61 658.43,317.08 659.57,317.56 660.71,318.04 661.86,318.53 663.00,319.03 664.15,319.54 665.29,320.05 666.44,320.57 667.58,321.10 668.73,321.63 669.88,322.17 671.02,322.72 672.17,323.27 673.32,323.83 674.47,324.39 675.62,324.96 676.78,325.53 677.93,326.11 679.08,326.70 680.24,327.29 681.39,327.88 682.55,328.48 683.70,329.08 684.86,329.69 686.01,330.30 687.17,330.91 688.33,331.53 689.49,332.15 690.65,332.78 691.81,333.41 692.97,334.04 694.13,334.68 695.29,335.31 696.46,335.96 697.62,336.60 698.78,337.24 699.95,337.89 701.11,338.54 702.28,339.19 703.44,339.85 704.61,340.50 705.78,341.16 706.95,341.82 708.11,342.47 709.28,343.13 710.45,343.79 711.62,344.45 712.79,345.12 713.96,345.78 715.13,346.44 716.30,347.10 717.47,347.76 718.65,348.43 719.82,349.09 720.99,349.75 722.16,350.41 723.34,351.07 724.51,351.73 725.68,352.38 726.86,353.04 728.03,353.69 729.21,354.35 730.38,355.00 731.55,355.65 732.73,356.30 733.90,356.94 735.08,357.59 736.25,358.23 737.43,358.87 738.61,359.50 739.78,360.14 740.96,360.77 742.13,361.40"/>
<polyline stroke="#bc4a45" stroke-width="2" stroke-dasharray="10.2 6.7" stroke-dashoffset="4.48" points="466.30,361.40 467.45,360.20 468.60,358.99 469.75,357.77 470.90,356.54 472.05,355.31 473.20,354.07 474.35,352.83 475.49,351.57 476.64,350.32 477.79,349.05 478.94,347.78 480.09,346.51 481.24,345.23 482.39,343.95 483.54,342.66 484.69,341.37 485.84,340.07 486.99,338.77 488.14,337.46 489.29,336.16 490.44,334.85 491.58,333.54 492.73,332.22 493.88,330.91 495.03,329.59 496.18,328.27 497.33,326.95 498.48,325.63 499.63,324.31 500.78,322.99 501.93,321.67 503.08,320.35 504.23,319.04 505.38,317.72 506.53,316.41 507.67,315.09 508.82,313.79 509.97,312.48 511.12,311.17 512.27,309.88 513.42,308.58 514.57,307.29 515.72,306.00 516.87,304.72 518.02,303.44 519.17,302.17 520.32,300.91 521.47,299.65 522.62,298.40 523.76,297.15 524.91,295.91 526.06,294.68 527.21,293.46 528.36,292.25 529.51,291.05 530.66,289.85 531.81,288.67 532.96,287.50 534.11,286.33 535.26,285.18 536.41,284.04 537.56,282.91 538.71,281.79 539.86,280.68 541.00,279.59 542.15,278.51 543.30,277.44 544.45,276.38 545.60,275.34 546.75,274.32 547.90,273.30 549.05,272.31 550.20,271.32 551.35,270.36 552.50,269.41 553.65,268.47 554.80,267.55 555.95,266.65 557.09,265.76 558.24,264.90 559.39,264.05 560.54,263.21 561.69,262.40 562.84,261.60 563.99,260.83 565.14,260.07 566.29,259.33 567.44,258.61 568.59,257.91 569.74,257.23 570.89,256.57 572.04,255.93 573.18,255.31 574.33,254.71 575.48,254.13 576.63,253.57 577.78,253.03 578.93,252.52 580.08,252.03 581.23,251.56 582.38,251.11 583.53,250.68 584.68,250.27 585.83,249.89 586.98,249.53 588.13,249.19 589.28,248.88 590.42,248.59 591.57,248.32 592.72,248.07 593.87,247.85 595.02,247.65 596.17,247.48 597.32,247.32 598.47,247.19 599.62,247.09 600.77,247.01 601.92,246.95 603.07,246.91 604.22,246.90 605.34,246.91 606.46,246.95 607.59,247.01 608.71,247.09 609.83,247.19 610.96,247.32 612.08,247.48 613.20,247.65 614.33,247.85 615.45,248.07 616.57,248.32 617.70,248.59 618.82,248.88 619.95,249.19 621.07,249.53 622.20,249.89 623.32,250.27 624.45,250.68 625.58,251.11 626.70,251.56 627.83,252.03 628.96,252.52 630.08,253.03 631.21,253.57 632.34,254.13 633.47,254.71 634.60,255.31 635.73,255.93 636.86,256.57 637.99,257.23 639.12,257.91 640.25,258.61 641.38,259.33 642.51,260.07 643.65,260.83 644.78,261.60 645.92,262.40 647.05,263.21 648.19,264.05 649.32,264.90 650.46,265.76 651.60,266.65 652.73,267.55 653.87,268.47 655.01,269.41 656.15,270.36 657.29,271.32 658.43,272.31 659.57,273.30 660.71,274.32 661.86,275.34 663.00,276.38 664.15,277.44 665.29,278.51 666.44,279.59 667.58,280.68 668.73,281.79 669.88,282.91 671.02,284.04 672.17,285.18 673.32,286.33 674.47,287.50 675.62,288.67 676.78,289.85 677.93,291.05 679.08,292.25 680.24,293.46 681.39,294.68 682.55,295.91 683.70,297.15 684.86,298.40 686.01,299.65 687.17,300.91 688.33,302.17 689.49,303.44 690.65,304.72 691.81,306.00 692.97,307.29 694.13,308.58 695.29,309.88 696.46,311.17 697.62,312.48 698.78,313.79 699.95,315.09 701.11,316.41 702.28,317.72 703.44,319.04 704.61,320.35 705.78,321.67 706.95,322.99 708.11,324.31 709.28,325.63 710.45,326.95 711.62,328.27 712.79,329.59 713.96,330.91 715.13,332.22 716.30,333.54 717.47,334.85 718.65,336.16 719.82,337.46 720.99,338.77 722.16,340.07 723.34,341.37 724.51,342.66 725.68,343.95 726.86,345.23 728.03,346.51 729.21,347.78 730.38,349.05 731.55,350.32 732.73,351.57 733.90,352.83 735.08,354.07 736.25,355.31 737.43,356.54 738.61,357.77 739.78,358.99 740.96,360.20 742.13,361.40"/>
<polyline stroke="#68aa64" stroke-width="1.85" stroke-linecap="round" points="466.30,361.40 467.45,359.66 468.60,357.92 469.75,356.16 470.90,354.40 472.05,352.63 473.20,350.86 474.35,349.08 475.49,347.29 476.64,345.49 477.79,343.69 478.94,341.88 480.09,340.07 481.24,338.26 482.39,336.44 483.54,334.61 484.69,332.79 485.84,330.95 486.99,329.12 488.14,327.29 489.29,325.45 490.44,323.61 491.58,321.77 492.73,319.93 493.88,318.08 495.03,316.24 496.18,314.40 497.33,312.56 498.48,310.72 499.63,308.88 500.78,307.05 501.93,305.21 503.08,303.38 504.23,301.56 505.38,299.73 506.53,297.92 507.67,296.10 508.82,294.29 509.97,292.49 511.12,290.69 512.27,288.90 513.42,287.12 514.57,285.35 515.72,283.58 516.87,281.82 518.02,280.07 519.17,278.33 520.32,276.60 521.47,274.87 522.62,273.16 523.76,271.46 524.91,269.78 526.06,268.10 527.21,266.44 528.36,264.79 529.51,263.15 530.66,261.53 531.81,259.92 532.96,258.32 534.11,256.75 535.26,255.18 536.41,253.64 537.56,252.10 538.71,250.59 539.86,249.09 541.00,247.61 542.15,246.15 543.30,244.71 544.45,243.29 545.60,241.89 546.75,240.50 547.90,239.14 549.05,237.80 550.20,236.47 551.35,235.17 552.50,233.89 553.65,232.64 554.80,231.40 555.95,230.19 557.09,229.00 558.24,227.84 559.39,226.70 560.54,225.58 561.69,224.49 562.84,223.43 563.99,222.39 565.14,221.37 566.29,220.38 567.44,219.42 568.59,218.48 569.74,217.57 570.89,216.69 572.04,215.83 573.18,215.00 574.33,214.20 575.48,213.43 576.63,212.69 577.78,211.97 578.93,211.29 580.08,210.63 581.23,210.00 582.38,209.40 583.53,208.83 584.68,208.29 585.83,207.78 586.98,207.30 588.13,206.85 589.28,206.44 590.42,206.05 591.57,205.69 592.72,205.36 593.87,205.07 595.02,204.80 596.17,204.57 597.32,204.36 598.47,204.19 599.62,204.05 600.77,203.94 601.92,203.86 603.07,203.82 604.22,203.80 605.34,203.82 606.46,203.86 607.59,203.94 608.71,204.05 609.83,204.19 610.96,204.36 612.08,204.57 613.20,204.80 614.33,205.07 615.45,205.36 616.57,205.69 617.70,206.05 618.82,206.44 619.95,206.85 621.07,207.30 622.20,207.78 623.32,208.29 624.45,208.83 625.58,209.40 626.70,210.00 627.83,210.63 628.96,211.29 630.08,211.97 631.21,212.69 632.34,213.43 633.47,214.20 634.60,215.00 635.73,215.83 636.86,216.69 637.99,217.57 639.12,218.48 640.25,219.42 641.38,220.38 642.51,221.37 643.65,222.39 644.78,223.43 645.92,224.49 647.05,225.58 648.19,226.70 649.32,227.84 650.46,229.00 651.60,230.19 652.73,231.40 653.87,232.64 655.01,233.89 656.15,235.17 657.29,236.47 658.43,237.80 659.57,239.14 660.71,240.50 661.86,241.89 663.00,243.29 664.15,244.71 665.29,246.15 666.44,247.61 667.58,249.09 668.73,250.59 669.88,252.10 671.02,253.64 672.17,255.18 673.32,256.75 674.47,258.32 675.62,259.92 676.78,261.53 677.93,263.15 679.08,264.79 680.24,266.44 681.39,268.10 682.55,269.78 683.70,271.46 684.86,273.16 686.01,274.87 687.17,276.60 688.33,278.33 689.49,280.07 690.65,281.82 691.81,283.58 692.97,285.35 694.13,287.12 695.29,288.90 696.46,290.69 697.62,292.49 698.78,294.29 699.95,296.10 701.11,297.92 702.28,299.73 703.44,301.56 704.61,303.38 705.78,305.21 706.95,307.05 708.11,308.88 709.28,310.72 710.45,312.56 711.62,314.40 712.79,316.24 713.96,318.08 715.13,319.93 716.30,321.77 717.47,323.61 718.65,325.45 719.82,327.29 720.99,329.12 722.16,330.95 723.34,332.79 724.51,334.61 725.68,336.44 726.86,338.26 728.03,340.07 729.21,341.88 730.38,343.69 731.55,345.49 732.73,347.29 733.90,349.08 735.08,350.86 736.25,352.63 737.43,354.40 738.61,356.16 739.78,357.92 740.96,359.66 742.13,361.40"/>
</g>
<rect x="460.7" y="194.9" width="286.90" height="176.80" fill="none" stroke="#949494" stroke-width="1.3"/>
<path d="M466.30 371.70v-3.1M466.30 194.90v3.1M483.86 371.70v-2.0M483.86 194.90v2.0M501.42 371.70v-2.0M501.42 194.90v2.0M518.98 371.70v-2.0M518.98 194.90v2.0M536.54 371.70v-2.0M536.54 194.90v2.0M554.10 371.70v-3.1M554.10 194.90v3.1M571.66 371.70v-2.0M571.66 194.90v2.0M589.22 371.70v-2.0M589.22 194.90v2.0M606.78 371.70v-2.0M606.78 194.90v2.0M624.34 371.70v-2.0M624.34 194.90v2.0M641.90 371.70v-3.1M641.90 194.90v3.1M659.46 371.70v-2.0M659.46 194.90v2.0M677.02 371.70v-2.0M677.02 194.90v2.0M694.58 371.70v-2.0M694.58 194.90v2.0M712.14 371.70v-2.0M712.14 194.90v2.0M729.70 371.70v-3.1M729.70 194.90v3.1M460.70 370.50h3.1M747.60 370.50h-3.1M460.70 361.36h2.0M747.60 361.36h-2.0M460.70 352.22h2.0M747.60 352.22h-2.0M460.70 343.09h2.0M747.60 343.09h-2.0M460.70 333.95h3.1M747.60 333.95h-3.1M460.70 324.81h2.0M747.60 324.81h-2.0M460.70 315.68h2.0M747.60 315.68h-2.0M460.70 306.54h2.0M747.60 306.54h-2.0M460.70 297.40h3.1M747.60 297.40h-3.1M460.70 288.26h2.0M747.60 288.26h-2.0M460.70 279.12h2.0M747.60 279.12h-2.0M460.70 269.99h2.0M747.60 269.99h-2.0M460.70 260.85h3.1M747.60 260.85h-3.1M460.70 251.71h2.0M747.60 251.71h-2.0M460.70 242.58h2.0M747.60 242.58h-2.0M460.70 233.44h2.0M747.60 233.44h-2.0M460.70 224.30h3.1M747.60 224.30h-3.1M460.70 215.16h2.0M747.60 215.16h-2.0M460.70 206.03h2.0M747.60 206.03h-2.0M460.70 196.89h2.0M747.60 196.89h-2.0" stroke="#6e6e6e" stroke-width="1.1" fill="none"/>
<g fill="#141414" stroke="#141414" stroke-width="0.15" stroke-linejoin="round" style="font-family:'Liberation Serif',serif;font-kerning:none;text-rendering:geometricPrecision;opacity:0.999"><text x="39.61" y="175.11" font-size="16">2.00</text><text x="39.88" y="142.53" font-size="16">2.02</text><text x="39.25" y="109.95" font-size="16">2.04</text><text x="39.48" y="77.37" font-size="16">2.06</text><text x="39.61" y="44.79" font-size="16">2.08</text><text x="39.61" y="12.21" font-size="16">2.10</text><text x="83.95" y="32.05" font-size="24">(a)</text><text x="428.81" y="176.61" font-size="16">0.00</text><text x="428.82" y="144.31" font-size="16">0.05</text><text x="428.81" y="112.01" font-size="16">0.10</text><text x="428.82" y="79.71" font-size="16">0.15</text><text x="428.81" y="47.41" font-size="16">0.20</text><text x="428.82" y="15.11" font-size="16">0.25</text><text x="472.45" y="32.05" font-size="24">(b)</text><text x="46.81" y="368.91" font-size="16">0.0</text><text x="47.08" y="332.21" font-size="16">0.2</text><text x="46.45" y="295.51" font-size="16">0.4</text><text x="46.68" y="258.81" font-size="16">0.6</text><text x="46.81" y="222.11" font-size="16">0.8</text><text x="83.75" y="224.15" font-size="24">(c)</text><text x="73.40" y="388.30" font-size="16">0</text><text x="156.57" y="388.30" font-size="16">π/6</text><text x="245.14" y="388.30" font-size="16">π/3</text><text x="333.67" y="388.30" font-size="16">π/2</text><text x="437.08" y="376.18" font-size="16">1.2</text><text x="436.45" y="339.62" font-size="16">1.4</text><text x="436.68" y="303.08" font-size="16">1.6</text><text x="436.81" y="266.56" font-size="16">1.8</text><text x="436.81" y="230.01" font-size="16">2.0</text><text x="472.45" y="224.15" font-size="24">(d)</text><text x="462.70" y="388.00" font-size="16">0</text><text x="545.87" y="388.00" font-size="16">π/6</text><text x="634.44" y="388.00" font-size="16">π/3</text><text x="722.97" y="388.00" font-size="16">π/2</text><text transform="translate(203.79,422.63) scale(1.16,1)" font-size="31.5">θ</text><text transform="translate(596.29,423.23) scale(1.16,1)" font-size="31.5">θ</text><text transform="translate(385.01,106.02) scale(1.1,1)" font-size="32.5">S</text><text x="402.69" y="87.80" font-size="11">A</text><text x="418.98" y="87.77" font-size="11">B</text><text transform="translate(1.38,293.80) scale(1.07,1)" font-size="33">E</text><text x="20.45" y="298.40" font-size="32.5">n</text><text x="394.46" y="290.14" font-size="32.5">D</text></g>
<path d="M409.6 84.6H417" stroke="#141414" stroke-width="0.8" fill="none"/>
<path d="M413.4 81.6L418.2 84.6L413.4 87.6" stroke="#141414" stroke-width="1.3" fill="none" stroke-linejoin="miter"/>
<g fill="none" stroke="#141414" stroke-linecap="round"><path d="M6.6 80.4C7.4 78.8 9.0 77.6 11.0 77.4" stroke-width="1.0"/><circle cx="6.7" cy="80.4" r="1.0" fill="#141414" stroke="none"/><path d="M10.0 77.3C7.9 83.5 5.1 92.0 2.8 100.9L3.8 101.0C7.9 93.0 10.9 84.0 11.8 77.5Z" fill="#141414" stroke-width="0.3"/><path d="M11.2 77.9C14.5 77.4 18.5 77.1 20.8 77.7" stroke-width="1.2"/><path d="M20.2 77.6C23.5 78.8 23.9 82.0 20.8 84.8" stroke-width="2.4"/><path d="M21.2 84.4C18.5 86.6 15.2 87.8 12.2 88.3" stroke-width="1.3"/><path d="M12.2 88.3C16.5 87.7 20.5 88.2 21.8 90.0" stroke-width="1.3"/><path d="M21.5 89.6C23.4 92.2 22.3 96.0 17.6 98.0" stroke-width="2.5"/><path d="M18.5 97.7C14.5 99.2 9.8 99.2 7.0 98.4" stroke-width="1.5"/></g>
</svg></body></html>
